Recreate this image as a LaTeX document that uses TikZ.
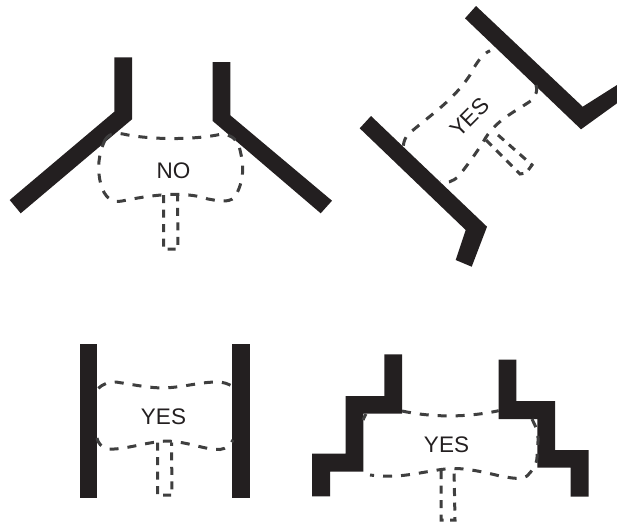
\documentclass[tikz,border=0pt]{standalone}
\usepackage{fontspec}
\setmainfont{Liberation Sans}
\definecolor{wallcol}{HTML}{231F20}
\definecolor{dashcol}{HTML}{3F3F3F}
\tikzset{
  wall/.style={fill=wallcol,draw=none},
  outline/.style={draw=dashcol,line width=3pt,dash pattern=on 9pt off 9pt},
  stem/.style={draw=dashcol,line width=3pt,dash pattern=on 8pt off 6.5pt},
  lab/.style={text=wallcol,font=\fontsize{22.5}{25}\selectfont,inner sep=0pt}
}
\begin{document}
\begin{tikzpicture}[x=1pt,y=-1pt]
\useasboundingbox (0,0) rectangle (617,523);
% top left
\fill[wall] (114.3,57.3)--(132,57.3)--(132,119.3)--(20.7,213.3)--(9.7,200)--(114.3,111.7)--cycle;
\fill[wall] (212.7,62)--(230.3,62)--(230.3,115.3)--(332,200.7)--(320.7,213.3)--(212.7,121)--cycle;
\draw[outline] (105,140) .. controls (110,132) and (118,133) .. (123,134)
  .. controls (145,139) and (190,141) .. (222,134)
  .. controls (232,135) and (238,140) .. (240,150)
  .. controls (245,170) and (243,182) .. (235,197)
  .. controls (228,204) and (215,200) .. (208,199)
  .. controls (190,193) and (165,192) .. (122,201)
  .. controls (112,203) and (105,198) .. (101,185)
  .. controls (97,170) and (98,155) .. (105,140);
\draw[stem] (163.7,195) -- (163.7,249) -- (178,249) -- (177.5,195);
\node[lab] (no) at (173.5,170.5) {NO};
% top right
\fill[wall] (476,6)--(465,18.3)--(581,129.3)--(617,103.3)--(617,85)--(582.7,106.7)--cycle;
\fill[wall] (371,116)--(359.7,128.3)--(465.7,230)--(455.7,260)--(471.7,266.7)--(487,226.7)--cycle;
\draw[outline] (403.3,145.7) .. controls (404,141) and (405,138) .. (408,134.5)
  .. controls (430,115) and (452,102) .. (470,75)
  .. controls (475,65) and (482,54) .. (490,50.7);
\draw[outline] (536,85) .. controls (538,90) and (536,95) .. (532,100)
  .. controls (515,112) and (495,120) .. (483.3,141.7)
  .. controls (475,155) and (465,168) .. (458.3,176.7)
  .. controls (453,181) and (447,184) .. (440,181.7);
\draw[stem] (486,140) -- (520,174) -- (526,173) -- (532,165) -- (498,135);
\node[lab,rotate=45] (yes1) at (469.5,117.5) {YES};
% bottom left
\fill[wall] (80,344.3) rectangle (97.3,498.3);
\fill[wall] (232,344.3) rectangle (249.7,498.3);
\draw[outline] (98.3,388.3) .. controls (103,384) and (108,382) .. (116,382)
  .. controls (135,385) and (150,388) .. (164,388)
  .. controls (185,387) and (200,382) .. (217,382)
  .. controls (224,382) and (228,384) .. (232,386);
\draw[outline] (97,438) .. controls (98,443) and (101,447) .. (108,449)
  .. controls (125,450) and (145,442) .. (167,441)
  .. controls (190,442) and (205,450) .. (220,449.5)
  .. controls (226,449) and (231,444) .. (233,440);
\draw[stem] (157.7,442.5) -- (157.7,495) -- (172,495) -- (171.5,442.5);
\node[lab] (yes2) at (163.5,417) {YES};
% bottom right
\fill[wall] (384.3,354.3)--(402,354.3)--(402,413.7)--(363.3,413.7)--(363.3,471.7)--(330,471.7)--(330,496.3)--(312,496.3)--(312,453.7)--(345.7,453.7)--(345.7,396)--(384.3,396)--cycle;
\fill[wall] (498.7,359.7)--(516.3,359.7)--(516.3,401)--(555,401)--(555,450)--(588.7,450)--(588.7,496.7)--(570.7,496.7)--(570.7,467.7)--(537.3,467.7)--(537.3,419)--(498.7,419)--cycle;
\draw[outline] (363,420) .. controls (364,417) and (365,416) .. (366,414);
\draw[outline] (402,411) .. controls (425,416) and (460,419) .. (498.7,410.7);
\draw[outline] (532,419) .. controls (536,428) and (540,432) .. (537,450)
  .. controls (537.5,460) and (537,466) .. (527,476)
  .. controls (520,480) and (512,478) .. (500,476)
  .. controls (480,471) and (460,467) .. (445,469)
  .. controls (420,472) and (400,479) .. (370,475);
\draw[stem] (441,471) -- (441,520) -- (455,520) -- (454,468);
\node[lab] (yes3) at (446.5,445) {YES};
\end{tikzpicture}
\end{document}
